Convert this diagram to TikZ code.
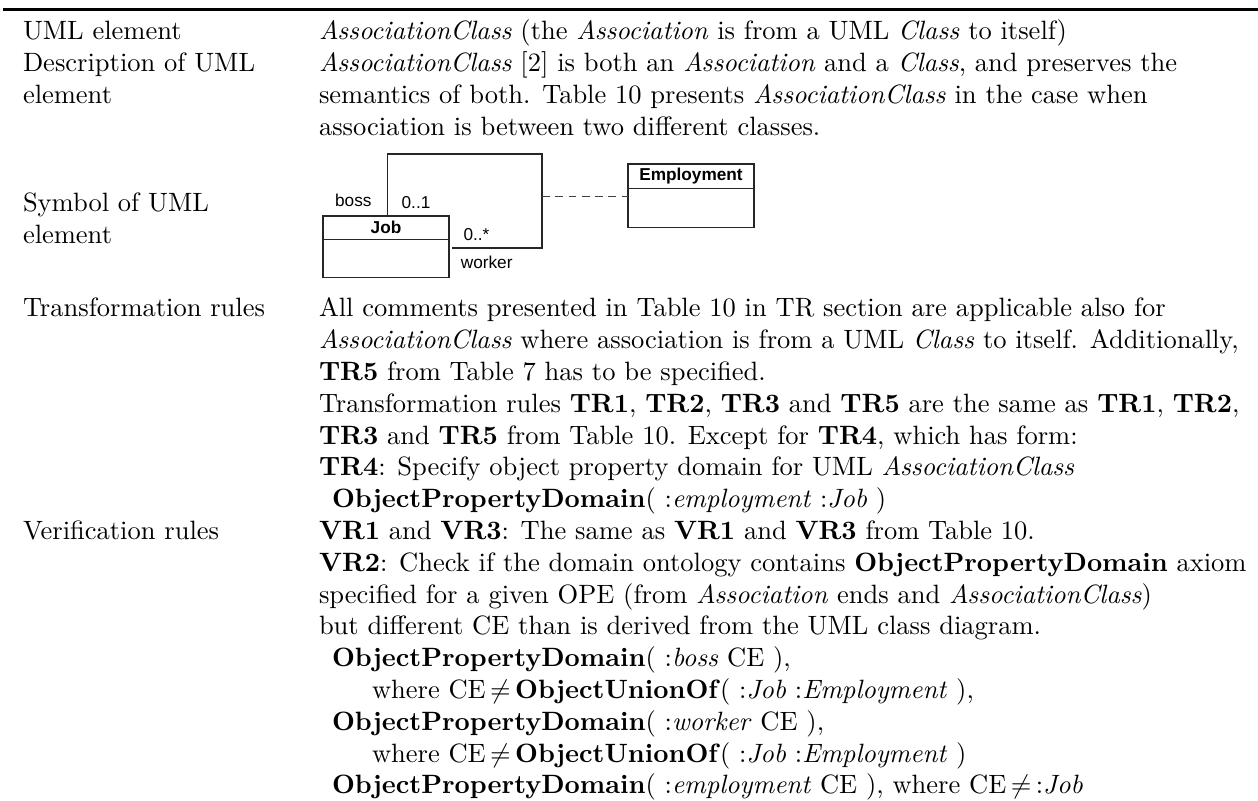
\documentclass[tikz,border=0pt]{standalone}
\usepackage{fontspec}
\newfontfamily\umlfont{Liberation Sans}
\begin{document}
\begin{tikzpicture}[x=0.3774pt,y=-0.3774pt,
  txt/.style={anchor=base west, inner sep=0pt, outer sep=0pt, font=\fontsize{10}{12}\selectfont},
  uml/.style={inner sep=0pt, outer sep=0pt, font=\umlfont\fontsize{6.5}{7.8}\selectfont},
  umlbox/.style={draw=black!85, line width=0.4pt, minimum width=47.55pt, inner sep=0pt, outer sep=0pt, anchor=north west, font=\umlfont\bfseries\fontsize{6.5}{7.8}\selectfont},
  assoc/.style={draw=black!85, line width=0.4pt},
  acdash/.style={draw=black!75, line width=0.45pt, dash pattern=on 3pt off 2pt}]
\useasboundingbox (0,0) rectangle (1258,801);
% top rule
\coordinate (ruleL) at (3,9.5);
\coordinate (ruleR) at (1258,9.5);
\draw[line width=0.8pt] (ruleL) -- (ruleR);
% left column
\node[txt] (h1) at (23,40) {UML element};
\node[txt] (h2a) at (23,71.8) {Description of UML};
\node[txt] (h2b) at (23,103.6) {element};
\node[txt] (h3a) at (23,211.5) {Symbol of UML};
\node[txt] (h3b) at (23,243.3) {element};
\node[txt] (h4) at (23,317) {Transformation rules};
\node[txt] (h5) at (23,539.6) {Verification rules};
% right column
\node[txt] (r1) at (319,40) {\textit{AssociationClass} (the \textit{Association} is from a UML \textit{Class} to itself)};
\node[txt] (r2) at (319,71.8) {\textit{AssociationClass} [2] is both an \textit{Association} and a \textit{Class}, and preserves the};
\node[txt] (r3) at (319,103.6) {semantics of both. Table 10 presents \textit{AssociationClass} in the case when};
\node[txt] (r4) at (319,135.4) {association is between two different classes.};
% UML symbol
\node[umlbox, minimum height=8.79pt] (jobh) at (323,216) {Job};
\node[umlbox, minimum height=14.49pt] (jobb) at (jobh.south west) {};
\node[umlbox, minimum height=9.17pt] (emph) at (628,164) {Employment};
\node[umlbox, minimum height=14.72pt] (empb) at (emph.south west) {};
\coordinate (c1) at (387.7,154);
\coordinate (c2) at (542,154);
\coordinate (c3) at (542,248);
\draw[assoc] (jobh.north -| c1) -- (c1) -- (c2) -- (c3) -- ([xshift=1pt]c3 -| jobb.east);
\coordinate (d1) at (542,196.7);
\draw[acdash] (d1) -- (d1 -| empb.west);
\node[uml, anchor=base] (boss) at (353.3,207) {boss};
\node[uml, anchor=base] (m1) at (416,209) {0..1};
\node[uml, anchor=base] (m2) at (476.5,240.7) {0..*};
\node[uml, anchor=base] (worker) at (486.7,268.3) {worker};
% transformation rules
\node[txt] (t1) at (319,317) {All comments presented in Table 10 in TR section are applicable also for};
\node[txt] (t2) at (319,348.8) {\textit{AssociationClass} where association is from a UML \textit{Class} to itself. Additionally,};
\node[txt] (t3) at (319,380.6) {\textbf{TR5} from Table 7 has to be specified.};
\node[txt] (t4) at (319,412.4) {Transformation rules \textbf{TR1}, \textbf{TR2}, \textbf{TR3} and \textbf{TR5} are the same as \textbf{TR1}, \textbf{TR2},};
\node[txt] (t5) at (319,444.2) {\textbf{TR3} and \textbf{TR5} from Table 10. Except for \textbf{TR4}, which has form:};
\node[txt] (t6) at (319,476) {\textbf{TR4}: Specify object property domain for UML \textit{AssociationClass}};
\node[txt] (t7) at (332,507.8) {\textbf{ObjectPropertyDomain}( :\textit{employment} :\textit{Job} )};
% verification rules
\node[txt] (v1) at (319,539.6) {\textbf{VR1} and \textbf{VR3}: The same as \textbf{VR1} and \textbf{VR3} from Table 10.};
\node[txt] (v2) at (319,571.4) {\textbf{VR2}: Check if the domain ontology contains \textbf{ObjectPropertyDomain} axiom};
\node[txt] (v3) at (319,603.2) {specified for a given OPE (from \textit{Association} ends and \textit{AssociationClass})};
\node[txt] (v4) at (319,635) {but different CE than is derived from the UML class diagram.};
\node[txt] (v5) at (332,666.8) {\textbf{ObjectPropertyDomain}( :\textit{boss} CE ),};
\node[txt] (v6) at (372,698.6) {where CE\,$\neq$\,\textbf{ObjectUnionOf}( :\textit{Job} :\textit{Employment} ),};
\node[txt] (v7) at (332,730.4) {\textbf{ObjectPropertyDomain}( :\textit{worker} CE ),};
\node[txt] (v8) at (372,762.2) {where CE\,$\neq$\,\textbf{ObjectUnionOf}( :\textit{Job} :\textit{Employment} )};
\node[txt] (v9) at (332,794) {\textbf{ObjectPropertyDomain}( :\textit{employment} CE ), where CE\,$\neq$\,:\textit{Job}};
\end{tikzpicture}
\end{document}
